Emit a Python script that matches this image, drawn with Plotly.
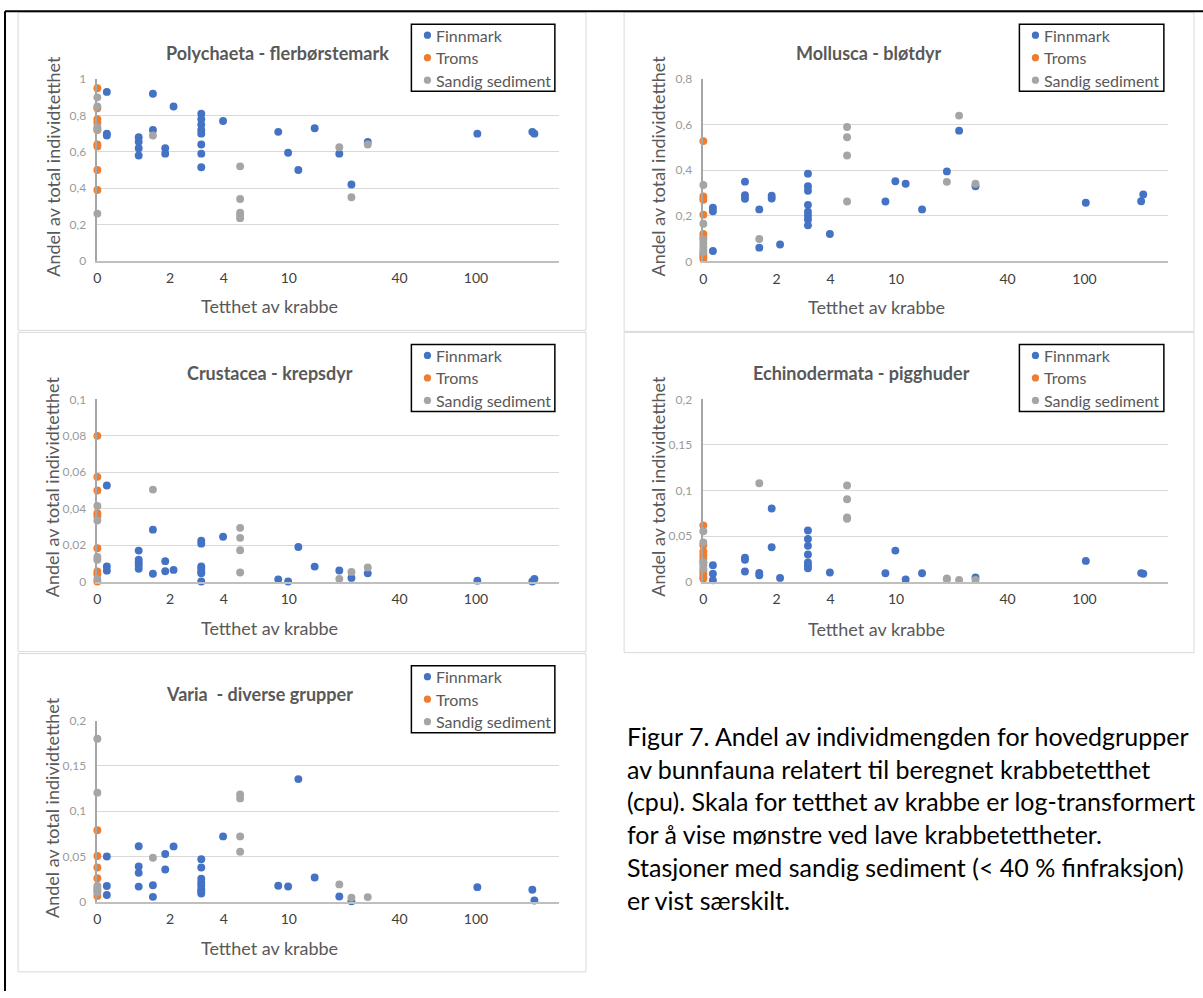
import plotly.graph_objects as go

# ---------------- data (x = log-transformed crab density, axis units) ----------------
tick_vals = [0, 0.383, 0.667, 1.01, 1.594, 1.997]
tick_text = ["0", "2", "4", "10", "40", "100"]

serie_navn = ["Finnmark", "Troms", "Sandig sediment"]
serie_farge = ["#4472C4", "#ED7D31", "#A5A5A5"]

# Polychaeta
poly_finn_x = [0.050, 0.050, 0.050, 0.218, 0.218, 0.218, 0.218, 0.293, 0.293, 0.358, 0.358, 0.402,
               0.548, 0.548, 0.548, 0.548, 0.548, 0.548, 0.548, 0.548, 0.663, 0.954, 1.006, 1.060,
               1.146, 1.276, 1.340, 1.426, 2.004, 2.294, 2.305]
poly_finn_y = [0.93, 0.70, 0.69, 0.68, 0.655, 0.62, 0.58, 0.92, 0.72, 0.62, 0.59, 0.85,
               0.81, 0.78, 0.75, 0.72, 0.70, 0.64, 0.59, 0.515, 0.77, 0.71, 0.595, 0.50,
               0.73, 0.59, 0.42, 0.655, 0.70, 0.71, 0.70]
poly_troms_x = [0, 0, 0, 0, 0, 0, 0, 0, 0]
poly_troms_y = [0.95, 0.84, 0.78, 0.76, 0.72, 0.64, 0.63, 0.50, 0.39]
poly_sand_x = [0, 0, 0, 0, 0, 0.293, 0.753, 0.753, 0.753, 0.753, 0.753, 1.276, 1.340, 1.426]
poly_sand_y = [0.90, 0.85, 0.735, 0.725, 0.26, 0.69, 0.52, 0.34, 0.265, 0.25, 0.235, 0.625, 0.35, 0.64]

# Mollusca
moll_finn_x = [0.050, 0.050, 0.050, 0.218, 0.218, 0.218, 0.293, 0.293, 0.358, 0.358, 0.402,
               0.548, 0.548, 0.548, 0.548, 0.548, 0.548, 0.548, 0.548, 0.663, 0.954, 1.006,
               1.060, 1.146, 1.276, 1.340, 1.426, 2.004, 2.294, 2.305]
moll_finn_y = [0.235, 0.22, 0.045, 0.35, 0.29, 0.275, 0.228, 0.06, 0.288, 0.276, 0.074,
               0.385, 0.33, 0.31, 0.248, 0.218, 0.20, 0.184, 0.158, 0.12, 0.263, 0.352,
               0.341, 0.228, 0.395, 0.574, 0.33, 0.257, 0.264, 0.294]
moll_troms_x = [0, 0, 0, 0, 0, 0, 0, 0, 0]
moll_troms_y = [0.528, 0.285, 0.27, 0.205, 0.12, 0.105, 0.03, 0.02, 0.01]
moll_sand_x = [0, 0, 0, 0, 0, 0, 0, 0.293, 0.753, 0.753, 0.753, 0.753, 1.276, 1.340, 1.426]
moll_sand_y = [0.335, 0.165, 0.095, 0.08, 0.065, 0.05, 0.04, 0.098, 0.59, 0.545, 0.465, 0.263, 0.349, 0.64, 0.341]

# Crustacea
crus_finn_x = [0.050, 0.050, 0.050, 0.218, 0.218, 0.218, 0.218, 0.218, 0.293, 0.293, 0.358, 0.358,
               0.402, 0.548, 0.548, 0.548, 0.548, 0.548, 0.548, 0.548, 0.663, 0.954, 1.006,
               1.060, 1.146, 1.276, 1.340, 1.426, 2.004, 2.294, 2.305]
crus_finn_y = [0.0527, 0.0083, 0.006, 0.017, 0.012, 0.0105, 0.009, 0.007, 0.0285, 0.0043, 0.0112, 0.0057,
               0.0064, 0.0224, 0.0208, 0.0083, 0.007, 0.0055, 0.0045, 0.0, 0.0246, 0.0012, 0.0,
               0.019, 0.0082, 0.0061, 0.002, 0.0045, 0.0005, 0.0, 0.0015]
crus_troms_x = [0, 0, 0, 0, 0, 0, 0, 0, 0]
crus_troms_y = [0.08, 0.0575, 0.05, 0.0375, 0.036, 0.0183, 0.0055, 0.004, 0.0]
crus_sand_x = [0, 0, 0, 0, 0, 0.293, 0.753, 0.753, 0.753, 0.753, 1.276, 1.340, 1.426]
crus_sand_y = [0.0415, 0.0335, 0.0135, 0.012, 0.0015, 0.0505, 0.0295, 0.024, 0.0172, 0.005, 0.0015, 0.0053, 0.0077]

# Echinodermata
echi_finn_x = [0.050, 0.050, 0.050, 0.218, 0.218, 0.218, 0.293, 0.293, 0.358, 0.358, 0.402,
               0.548, 0.548, 0.548, 0.548, 0.548, 0.548, 0.548, 0.663, 0.954, 1.006, 1.060,
               1.146, 1.426, 2.004, 2.294, 2.305]
echi_finn_y = [0.018, 0.0085, 0.0015, 0.0262, 0.024, 0.011, 0.0095, 0.007, 0.0802, 0.0376, 0.004,
               0.056, 0.0467, 0.0392, 0.0297, 0.0209, 0.0175, 0.0145, 0.0099, 0.0092, 0.034, 0.0022,
               0.0092, 0.0044, 0.0227, 0.0093, 0.0085]
echi_troms_x = [0, 0, 0, 0, 0, 0, 0, 0, 0, 0]
echi_troms_y = [0.0617, 0.040, 0.033, 0.029, 0.025, 0.021, 0.012, 0.0085, 0.005, 0.003]
echi_sand_x = [0, 0, 0, 0, 0, 0.293, 0.753, 0.753, 0.753, 0.753, 1.276, 1.276, 1.340, 1.426]
echi_sand_y = [0.0553, 0.043, 0.0215, 0.0175, 0.014, 0.108, 0.1055, 0.0903, 0.0705, 0.069, 0.0033, 0.0025, 0.0018, 0.0018]

# Varia
vari_finn_x = [0.050, 0.050, 0.050, 0.218, 0.218, 0.218, 0.218, 0.293, 0.293, 0.358, 0.358, 0.402,
               0.548, 0.548, 0.548, 0.548, 0.548, 0.548, 0.548, 0.548, 0.663, 0.954, 1.006,
               1.060, 1.146, 1.276, 1.340, 2.004, 2.294, 2.305]
vari_finn_y = [0.050, 0.0175, 0.0075, 0.0613, 0.039, 0.032, 0.0168, 0.0183, 0.0055, 0.0528, 0.0357, 0.0612,
               0.0471, 0.0379, 0.0254, 0.0214, 0.0177, 0.014, 0.0114, 0.0092, 0.0722, 0.0177, 0.0169,
               0.1355, 0.0269, 0.0059, 0.0005, 0.0162, 0.0133, 0.0015]
vari_troms_x = [0, 0, 0, 0, 0]
vari_troms_y = [0.079, 0.0505, 0.0378, 0.026, 0.0065]
vari_sand_x = [0, 0, 0, 0, 0, 0, 0.293, 0.753, 0.753, 0.753, 0.753, 1.276, 1.340, 1.426]
vari_sand_y = [0.18, 0.1205, 0.0175, 0.015, 0.0128, 0.0105, 0.0487, 0.1186, 0.1142, 0.0722, 0.0552, 0.0192, 0.0044, 0.0052]

titler = ["Polychaeta - flerbørstemark", "Mollusca - bløtdyr", "Crustacea - krepsdyr",
          "Echinodermata - pigghuder", "Varia  - diverse grupper"]
y_maks = [1.0, 0.8, 0.1, 0.2, 0.2]
y_steg = [0.2, 0.2, 0.02, 0.05, 0.05]

serier = [
    [(poly_finn_x, poly_finn_y), (poly_troms_x, poly_troms_y), (poly_sand_x, poly_sand_y)],
    [(moll_finn_x, moll_finn_y), (moll_troms_x, moll_troms_y), (moll_sand_x, moll_sand_y)],
    [(crus_finn_x, crus_finn_y), (crus_troms_x, crus_troms_y), (crus_sand_x, crus_sand_y)],
    [(echi_finn_x, echi_finn_y), (echi_troms_x, echi_troms_y), (echi_sand_x, echi_sand_y)],
    [(vari_finn_x, vari_finn_y), (vari_troms_x, vari_troms_y), (vari_sand_x, vari_sand_y)],
]

caption_lines = [
    "Figur 7. Andel av individmengden for hovedgrupper",
    "av bunnfauna relatert til beregnet krabbetetthet",
    "(cpu). Skala for tetthet av krabbe er log-transformert",
    "for å vise mønstre ved lave krabbetettheter.",
    "Stasjoner med sandig sediment (&lt; 40 % finfraksjon)",
    "er vist særskilt.",
]

# ---------------- layout geometry (target picture pixels) ----------------
# The page keeps the default 8px body margin; the whole page (figure + margins)
# ends up fitted into the 1203x998 picture, so target pixels are mapped back.
W, H = 1203, 998
PAGE_MARGIN = 8
SX = (W + 2 * PAGE_MARGIN - 8) / 1203.0   # page width 1211 -> 1203
SY = (H + 2 * PAGE_MARGIN) / 998.0        # page height 1014 -> 998
FONT = "Lato, 'Open Sans', sans-serif"
X_MAX = 2.434

panels = [
    dict(box=(22, 12, 588, 330), px=(101, 561), py=(79, 260.5), tcx=281, tcy=53,
         leg=(414, 24, 557, 91), xtcx=273, xtcy=306, ytcx=56.5),
    dict(box=(626, 12, 1194, 331), px=(705, 1168), py=(79, 261), tcx=870, tcy=53,
         leg=(1020, 24, 1164, 91), xtcx=878, xtcy=307, ytcx=660),
    dict(box=(22, 332, 588, 651), px=(101, 561), py=(399, 581), tcx=273.5, tcy=373,
         leg=(414, 344, 557, 411), xtcx=273, xtcy=627, ytcx=56.5),
    dict(box=(626, 332, 1194, 652), px=(705, 1168), py=(399, 581), tcx=863, tcy=373,
         leg=(1020, 344, 1164, 411), xtcx=878, xtcy=628, ytcx=660),
    dict(box=(22, 653, 588, 971), px=(101, 561), py=(720, 901), tcx=263, tcy=693,
         leg=(414, 665, 557, 732), xtcx=273, xtcy=947, ytcx=56.5),
]


def fx(p):
    return (p * SX - PAGE_MARGIN) / W


def fy(p):
    return 1 - (p * SY - PAGE_MARGIN) / H


fig = go.Figure()
shapes = []
annotations = []
layout = {}

for i, pan in enumerate(panels):
    n = i + 1
    xa = "x" if n == 1 else f"x{n}"
    ya = "y" if n == 1 else f"y{n}"
    xkey = "xaxis" if n == 1 else f"xaxis{n}"
    ykey = "yaxis" if n == 1 else f"yaxis{n}"

    layout[xkey] = dict(
        domain=[fx(pan["px"][0]), fx(pan["px"][1])], anchor=ya,
        range=[0, X_MAX], showgrid=False, zeroline=False,
        showline=True, linecolor="#bfbfbf", linewidth=1.5,
        tickmode="array", tickvals=tick_vals, ticktext=tick_text,
        ticks="", ticklabelstandoff=4,
        tickfont=dict(family=FONT, size=14, color="#404040"), fixedrange=True,
    )
    layout[ykey] = dict(
        domain=[fy(pan["py"][1]), fy(pan["py"][0])], anchor=xa,
        range=[0, y_maks[i]], tick0=0, dtick=y_steg[i],
        showgrid=True, gridcolor="#d9d9d9", gridwidth=1, zeroline=False,
        showline=True, linecolor="#a6a6a6", linewidth=1.5,
        ticks="", ticklabelstandoff=7,
        tickfont=dict(family=FONT, size=12, color="#9a9a9a"), fixedrange=True,
    )

    for (sx, sy), name, col in zip(serier[i], serie_navn, serie_farge):
        fig.add_trace(go.Scatter(
            x=sx, y=sy, mode="markers", name=name, showlegend=False,
            xaxis=xa, yaxis=ya, cliponaxis=False,
            marker=dict(size=7.9, color=col, line=dict(width=0)),
        ))

    # panel border
    b = pan["box"]
    shapes.append(dict(type="rect", xref="paper", yref="paper", layer="below",
                       x0=fx(b[0]), x1=fx(b[2]), y0=fy(b[3]), y1=fy(b[1]),
                       line=dict(color="#d9d9d9", width=1), fillcolor="white"))
    # legend box
    lg = pan["leg"]
    shapes.append(dict(type="rect", xref="paper", yref="paper", layer="above",
                       x0=fx(lg[0]), x1=fx(lg[2]), y0=fy(lg[3]), y1=fy(lg[1]),
                       line=dict(color="#000000", width=1.5), fillcolor="white"))
    for k, (name, col) in enumerate(zip(serie_navn, serie_farge)):
        cy = lg[1] + 11 + k * 22.5
        cx = lg[0] + 16
        r = 3.6
        shapes.append(dict(type="circle", xref="paper", yref="paper", layer="above",
                           x0=fx(cx - r), x1=fx(cx + r), y0=fy(cy + r), y1=fy(cy - r),
                           line=dict(width=0), fillcolor=col))
        annotations.append(dict(text=name, xref="paper", yref="paper",
                                x=fx(lg[0] + 23), y=fy(cy), xanchor="left", yanchor="middle",
                                showarrow=False, font=dict(family=FONT, size=16, color="#595959")))
    # title
    annotations.append(dict(text=f"<b>{titler[i]}</b>", xref="paper", yref="paper",
                            x=fx(pan["tcx"]), y=fy(pan["tcy"]), xanchor="center", yanchor="middle",
                            showarrow=False, font=dict(family=FONT, size=18, color="#595959")))
    # x-axis title
    annotations.append(dict(text="Tetthet av krabbe", xref="paper", yref="paper",
                            x=fx(pan["xtcx"]), y=fy(pan["xtcy"]), xanchor="center", yanchor="middle",
                            showarrow=False, font=dict(family=FONT, size=18, color="#595959")))
    # y-axis title
    ycen = (pan["py"][0] + pan["py"][1]) / 2 - 4
    annotations.append(dict(text="Andel av total individtetthet", xref="paper", yref="paper",
                            x=fx(pan["ytcx"]), y=fy(ycen), xanchor="center", yanchor="middle",
                            textangle=-90, showarrow=False,
                            font=dict(family=FONT, size=18, color="#595959")))

# outer black frame lines
shapes.append(dict(type="line", xref="paper", yref="paper", x0=1.0 / W, x1=1.0, y0=fy(11), y1=fy(11),
                   line=dict(color="black", width=2)))
shapes.append(dict(type="line", xref="paper", yref="paper", x0=1.0 / W, x1=1.0 / W, y0=fy(11), y1=0,
                   line=dict(color="black", width=2)))

# caption
for k, line in enumerate(caption_lines):
    annotations.append(dict(text=line, xref="paper", yref="paper",
                            x=fx(627), y=fy(735 + k * 32.8), xanchor="left", yanchor="middle",
                            showarrow=False, font=dict(family=FONT, size=25, color="#000000")))

fig.update_layout(
    width=W, height=H, margin=dict(l=0, r=0, t=0, b=0),
    paper_bgcolor="white", plot_bgcolor="rgba(0,0,0,0)",
    separators=", ", showlegend=False,
    shapes=shapes, annotations=annotations,
    font=dict(family=FONT),
    **layout,
)

fig.write_html("out.html")
